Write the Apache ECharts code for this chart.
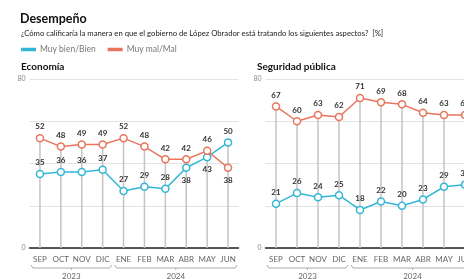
<!DOCTYPE html>
<html>
<head>
<meta charset="utf-8">
<script src="https://cdn.jsdelivr.net/npm/echarts@6/dist/echarts.min.js"></script>
<style>
  html, body { margin: 0; padding: 0; background: #fff; }
  #chart { width: 464px; height: 279px; }
</style>
</head>
<body>
<div id="chart"></div>
<script>
const months = ['SEP', 'OCT', 'NOV', 'DIC', 'ENE', 'FEB', 'MAR', 'ABR', 'MAY', 'JUN'];
const years = ['2023', '2024'];
const yearSpans = [[0, 3], [4, 9]];

const ecoBien = [35, 36, 36, 37, 27, 29, 28, 38, 43, 50];
const ecoMal = [52, 48, 49, 49, 52, 48, 42, 42, 46, 38];
const segBien = [21, 26, 24, 25, 18, 22, 20, 23, 29, 30];
const segMal = [67, 60, 63, 62, 71, 69, 68, 64, 63, 63];

// points whose label sits under the marker
const ecoBienBelow = [7, 8];
const ecoMalBelow = [9];

const BLUE = '#35b6d6';
const RED = '#e8755c';
const FONT = 'Lato';

function pointData(values, below) {
  return values.map((v, i) => below.includes(i)
    ? { value: v, label: { position: 'bottom', distance: 4 } }
    : v);
}

function maxOf(a, b) {
  return a.map((v, i) => Math.max(v, b[i]));
}

function lineSeries(name, color, values, below, idx) {
  return {
    name: name,
    type: 'line',
    xAxisIndex: idx,
    yAxisIndex: idx,
    data: pointData(values, below),
    symbol: 'circle',
    symbolSize: 7,
    itemStyle: { color: '#fff', borderColor: color, borderWidth: 1.5 },
    lineStyle: { color: color, width: 1.5 },
    label: {
      show: true, position: 'top', distance: 3,
      fontFamily: FONT, fontSize: 8, fontWeight: 'bold', color: '#333'
    },
    z: 3
  };
}

function dropSeries(values, idx) {
  return {
    type: 'bar',
    xAxisIndex: idx,
    yAxisIndex: idx,
    data: values,
    barWidth: 1.5,
    itemStyle: { color: '#c4c4c4' },
    silent: true,
    z: 1
  };
}

function xAxis(idx) {
  return {
    type: 'category',
    gridIndex: idx,
    data: months,
    axisLine: { lineStyle: { color: '#222', width: 1.5 } },
    axisTick: { show: false },
    axisLabel: { interval: 0, fontFamily: FONT, fontSize: 8, color: '#666', margin: 7 }
  };
}

function yAxis(idx) {
  return {
    type: 'value',
    gridIndex: idx,
    min: 0, max: 80, interval: 20,
    axisLine: { show: false },
    axisTick: { show: false },
    splitLine: { lineStyle: { color: '#e4e4e4', width: 1 } },
    axisLabel: {
      fontFamily: FONT, fontSize: 7, color: '#888', margin: 4,
      formatter: v => (v === 0 || v === 80) ? String(v) : ''
    }
  };
}

const chart = echarts.init(document.getElementById('chart'));

const option = {
  animation: false,
  title: [
    { text: 'Desempeño', left: 15, top: 7,
      textStyle: { fontFamily: FONT, fontSize: 12.5, fontWeight: 'bold', color: '#111' } },
    { text: '¿Cómo calificaría la manera en que el gobierno de López Obrador está tratando los siguientes aspectos?  [%]',
      left: 16, top: 25,
      textStyle: { fontFamily: FONT, fontSize: 7.7, fontWeight: 'normal', color: '#222' } },
    { text: 'Economía', left: 16, top: 57,
      textStyle: { fontFamily: FONT, fontSize: 10, fontWeight: 'bold', color: '#111' } },
    { text: 'Seguridad pública', left: 252, top: 57,
      textStyle: { fontFamily: FONT, fontSize: 10, fontWeight: 'bold', color: '#111' } }
  ],
  legend: {
    left: 16, top: 40,
    icon: 'rect', itemWidth: 13, itemHeight: 1.5, itemGap: 12,
    textStyle: { fontFamily: FONT, fontSize: 8.5, color: '#777' },
    data: [
      { name: 'Muy bien/Bien', itemStyle: { color: BLUE } },
      { name: 'Muy mal/Mal', itemStyle: { color: RED } }
    ]
  },
  grid: [
    { left: 29.5, top: 79, width: 209, height: 169, outerBoundsMode: 'none' },
    { left: 265.5, top: 79, width: 210, height: 169, outerBoundsMode: 'none' }
  ],
  xAxis: [xAxis(0), xAxis(1)],
  yAxis: [yAxis(0), yAxis(1)],
  series: [
    dropSeries(maxOf(ecoBien, ecoMal), 0),
    dropSeries(maxOf(segBien, segMal), 1),
    lineSeries('Muy bien/Bien', BLUE, ecoBien, ecoBienBelow, 0),
    lineSeries('Muy mal/Mal', RED, ecoMal, ecoMalBelow, 0),
    lineSeries('Muy bien/Bien', BLUE, segBien, [], 1),
    lineSeries('Muy mal/Mal', RED, segMal, [], 1)
  ]
};
chart.setOption(option);

// year brackets under the month labels
const graphics = [];
[0, 1].forEach(g => {
  yearSpans.forEach((span, k) => {
    const x0 = chart.convertToPixel({ xAxisIndex: g }, months[span[0]]) - 9;
    const x1 = chart.convertToPixel({ xAxisIndex: g }, months[span[1]]) + 9;
    const xm = (x0 + x1) / 2;
    const y = 268;
    graphics.push({
      type: 'polyline',
      shape: { points: [[x0, y - 3], [x0 + 2, y], [x1 - 2, y], [x1, y - 3]] },
      style: { fill: null, stroke: '#aaa', lineWidth: 1 }
    });
    graphics.push({
      type: 'line',
      shape: { x1: xm, y1: y, x2: xm, y2: y + 2 },
      style: { stroke: '#aaa', lineWidth: 1 }
    });
    graphics.push({
      type: 'text',
      x: xm, y: y + 4,
      style: {
        text: years[k], fill: '#666', fontFamily: FONT, fontSize: 8,
        textAlign: 'center', textVerticalAlign: 'top'
      }
    });
  });
});
chart.setOption({ graphic: graphics });
</script>
</body>
</html>
